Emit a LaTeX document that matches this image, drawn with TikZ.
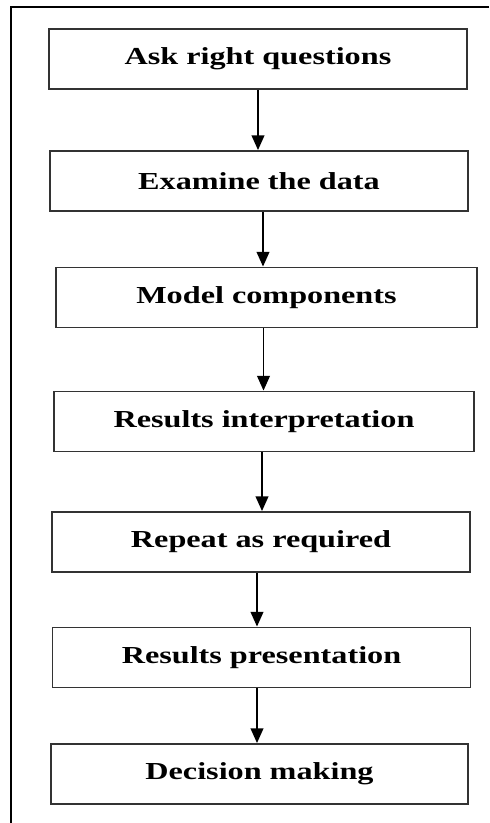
\documentclass[tikz,border=0pt]{standalone}
\usepackage{fontspec}
\setmainfont{Liberation Serif}[FakeStretch=1.32]
\usepackage{tikz}
\usetikzlibrary{arrows.meta,positioning,calc}

\begin{document}
\begin{tikzpicture}[x=0.75pt, y=-0.75pt, line width=1.1pt,
    stepbox/.style={draw=black!80, line width=1.4pt, minimum width=313.5pt, minimum height=45pt,
                    inner sep=0pt, font=\fontsize{18.3}{20}\selectfont\bfseries},
    flow/.style={-{Triangle[length=11pt, width=9.5pt]}, line width=1.3pt}]

    % --- page size ---
                \useasboundingbox (0,0) rectangle (489,823);

    % --- frame (only top and left edges show) ---
                \draw[line width=2pt] (489,7) -- (11,7) -- (11,823);

    % --- steps ---
                \node[stepbox] (ask)     at (258,59)    {Ask right questions};
                \node[stepbox] (examine) at (259,181)   {Examine the data};
                \node[stepbox, minimum width=315.75pt] (model) at (266.5,297.5) {Model components};
                \node[stepbox, minimum width=315pt] (interp) at (264,421.5) {Results interpretation};
                \node[stepbox] (repeat)  at (261,542)   {Repeat as required};
                \node[stepbox] (present) at (261.5,657.5) {Results presentation};
                \node[stepbox, minimum width=312.75pt] (decide) at (259.5,774) {Decision making};

    % --- arrows (slightly off centre, as in the original) ---
                \foreach \a/\b/\dx in {ask/examine/0, examine/model/4, model/interp/-3,
                                       interp/repeat/-2, repeat/present/-4, present/decide/-4.5}
                    \draw[flow] ([xshift=\dx*0.75pt]\a.south) -- ([xshift=\dx*0.75pt]\a.south |- \b.north);

\end{tikzpicture}
\end{document}
